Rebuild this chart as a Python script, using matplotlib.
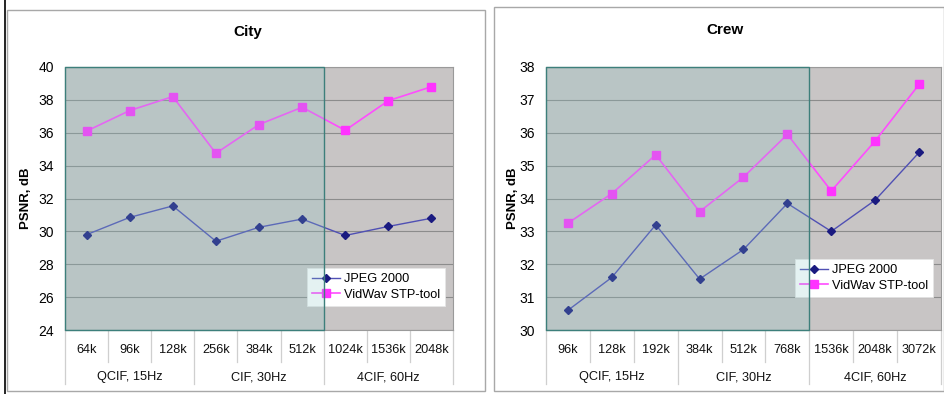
import matplotlib
matplotlib.use('Agg')
import matplotlib.pyplot as plt
from matplotlib.patches import Rectangle
from matplotlib.lines import Line2D

plt.rcParams['font.family'] = ['Liberation Sans', 'DejaVu Sans']

W, H = 945, 394

# data
groups = ['QCIF, 15Hz', 'CIF, 30Hz', '4CIF, 60Hz']
city_rates = ['64k', '96k', '128k', '256k', '384k', '512k', '1024k', '1536k', '2048k']
city_jpeg = [29.8, 30.85, 31.55, 29.4, 30.25, 30.75, 29.75, 30.3, 30.8]
city_vidwav = [36.1, 37.35, 38.2, 34.75, 36.5, 37.55, 36.15, 37.95, 38.8]
crew_rates = ['96k', '128k', '192k', '384k', '512k', '768k', '1536k', '2048k', '3072k']
crew_jpeg = [30.6, 31.6, 33.2, 31.55, 32.45, 33.85, 33.0, 33.95, 35.4]
crew_vidwav = [33.25, 34.15, 35.33, 33.6, 34.65, 35.95, 34.23, 35.75, 37.47]


def px_axes(fig, x0, y0, x1, y1):
    return fig.add_axes([x0 / W, 1 - y1 / H, (x1 - x0) / W, (y1 - y0) / H])


def frame(fig, x0, y0, x1, y1, color='#a8a8a8', lw=1.0):
    fig.patches.append(Rectangle((x0 / W, 1 - y1 / H), (x1 - x0) / W, (y1 - y0) / H,
                                 transform=fig.transFigure, fill=False,
                                 edgecolor=color, linewidth=lw, zorder=0))


def draw_chart(fig, box, title, title_xy, ylab_x, rates, jpeg, vidwav, ylim, yticks, leg_xy):
    ax = px_axes(fig, *box)
    ax.set_facecolor('#c8c5c5')
    x = list(range(len(rates)))
    ax.plot(x, jpeg, color='#5050b4', lw=1.0, marker='D', ms=4.5,
            mfc='#1a1a80', mec='#1a1a80', label='JPEG 2000', zorder=3)
    ax.plot(x, vidwav, color='#ff4cff', lw=1.2, marker='s', ms=6,
            mfc='#ff33ff', mec='#ff33ff', label='VidWav STP-tool', zorder=3)
    ax.set_xlim(-0.5, len(rates) - 0.5)
    ax.set_ylim(*ylim)
    ax.set_yticks(yticks)
    ax.set_yticklabels([str(t) for t in yticks], fontsize=10)
    ax.yaxis.grid(True, color='#8c8c8c', lw=0.8)
    ax.set_axisbelow(True)
    ax.tick_params(axis='y', length=0, pad=8)
    ax.set_xticks([])
    for s in ax.spines.values():
        s.set_color('#9a9a9a')
        s.set_linewidth(0.8)

    leg = ax.legend(loc='upper left', bbox_to_anchor=leg_xy, borderaxespad=0,
                    fontsize=9.2, frameon=True, fancybox=False, handlelength=2.2,
                    handletextpad=0.3, borderpad=0.4, labelspacing=0.3)
    leg.get_frame().set_edgecolor('#e6e6e6')
    leg.get_frame().set_linewidth(0.6)
    leg.get_frame().set_alpha(1)
    leg.set_zorder(4)

    # teal overlay over the first two groups
    ax.add_patch(Rectangle((-0.5, ylim[0]), 6, ylim[1] - ylim[0],
                           facecolor='#88c8c8', alpha=0.22, edgecolor='none', zorder=5))
    ax.add_patch(Rectangle((-0.5, ylim[0]), 6, ylim[1] - ylim[0],
                           facecolor='none', edgecolor='#3d7f7b', lw=1.0, zorder=6,
                           clip_on=False))

    tr = ax.get_xaxis_transform()
    axh = box[3] - box[1]
    y_lab = -(20 / axh)
    y_grp = -(47 / axh)
    y_sep = -(32 / axh)
    y_gsep = -(54 / axh)
    for i, r in enumerate(rates):
        ax.text(i, y_lab, r, transform=tr, ha='center', va='center', fontsize=9.2, color='#111111')
    for g, name in enumerate(groups):
        ax.text(3 * g + 1, y_grp, name, transform=tr, ha='center', va='center', fontsize=9.2, color='#111111')
    for k in range(len(rates) + 1):
        xs = k - 0.5
        y_end = y_gsep if k % 3 == 0 else y_sep
        ax.add_line(Line2D([xs, xs], [0, y_end], transform=tr, color='#cfcfcf', lw=0.9, clip_on=False))

    fig.text(title_xy[0] / W, 1 - title_xy[1] / H, title, ha='center', va='center',
             fontsize=11, fontweight='bold')
    fig.text(ylab_x / W, 1 - (box[1] + box[3]) / 2 / H, 'PSNR, dB', rotation=90,
             ha='center', va='center', fontsize=9.5, fontweight='bold')
    return ax


fig = plt.figure(figsize=(W / 100, H / 100), dpi=100)
fig.patch.set_facecolor('white')

# page frames
fig.add_artist(Line2D([5 / W, 5 / W], [0, 1], transform=fig.transFigure, color='black', lw=1.2))
frame(fig, 7, 10, 485, 391)
frame(fig, 494, 7, 944, 391)

draw_chart(fig, (65, 67, 453, 330), 'City', (248, 32), 26, city_rates, city_jpeg, city_vidwav,
           (24, 40), [24, 26, 28, 30, 32, 34, 36, 38, 40], (0.624, 0.236))
draw_chart(fig, (546, 67, 941, 330), 'Crew', (725, 30), 513, crew_rates, crew_jpeg, crew_vidwav,
           (30, 38), [30, 31, 32, 33, 34, 35, 36, 37, 38], (0.63, 0.27))

fig.savefig('out.png', dpi=100)
